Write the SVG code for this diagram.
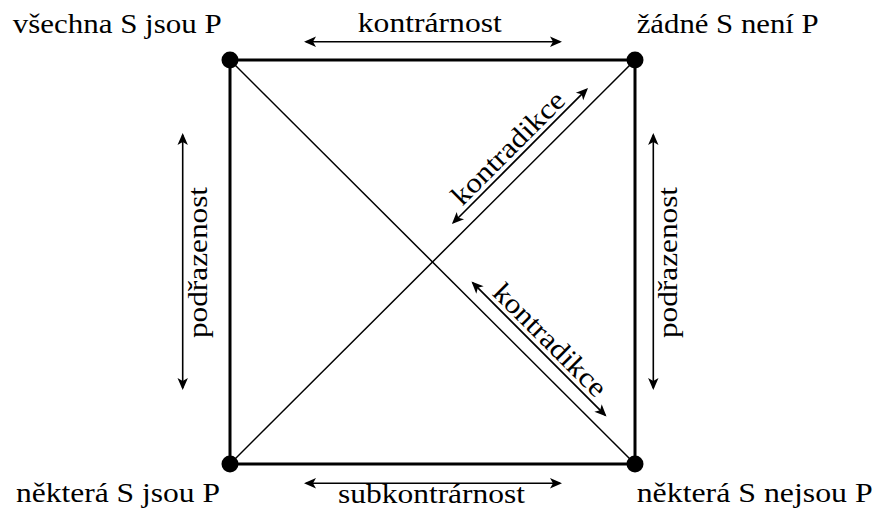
<svg xmlns="http://www.w3.org/2000/svg" width="878" height="510" viewBox="0 0 878 510">
<style>
  .lbl { font-family: "Liberation Serif", "DejaVu Serif", "Times New Roman", serif; font-size: 28px; fill: #000; }
  .edge { stroke: #000; stroke-width: 3; fill: none; }
  .diag { stroke: #000; stroke-width: 1.5; fill: none; }
  .arr { stroke: #000; stroke-width: 1.6; fill: none; marker-start: url(#ah); marker-end: url(#ah); }
  .dot { fill: #000; }
</style>
<defs>
  <marker id="ah" viewBox="-14 -7 15 14" refX="-2" refY="0" markerWidth="15" markerHeight="14" markerUnits="userSpaceOnUse" orient="auto-start-reverse">
    <path d="M0,0 L-12,-5.2 L-9,0 L-12,5.2 Z" fill="#000"/>
  </marker>
</defs>
<rect width="878" height="510" fill="#fff"/>
<g id="connectors">
  <line class="edge" x1="230" y1="60" x2="635" y2="60"/>
  <line class="edge" x1="230" y1="464" x2="635" y2="464"/>
  <line class="edge" x1="230" y1="60" x2="230" y2="464"/>
  <line class="edge" x1="635" y1="60" x2="635" y2="464"/>
  <line class="diag" x1="230" y1="60" x2="635" y2="464"/>
  <line class="diag" x1="230" y1="464" x2="635" y2="60"/>
  <line class="arr" x1="306" y1="41.7" x2="560" y2="41.7"/>
  <line class="arr" x1="306" y1="483.3" x2="560" y2="483.3"/>
  <line class="arr" x1="182.7" y1="135" x2="182.7" y2="388"/>
  <line class="arr" x1="653.3" y1="135" x2="653.3" y2="388"/>
  <line class="arr" x1="453.3" y1="222.7" x2="586.6" y2="89.4"/>
  <line class="arr" x1="472.9" y1="282.9" x2="605.1" y2="415.1"/>
  <text class="lbl" x="429.8" y="31.7" text-anchor="middle" textLength="144" lengthAdjust="spacingAndGlyphs">kontrárnost</text>
  <text class="lbl" x="431.5" y="503" text-anchor="middle" textLength="187" lengthAdjust="spacingAndGlyphs">subkontrárnost</text>
  <text class="lbl" transform="translate(207,262.5) rotate(-90)" text-anchor="middle" textLength="151" lengthAdjust="spacingAndGlyphs">podřazenost</text>
  <text class="lbl" transform="translate(677,262.5) rotate(-90)" text-anchor="middle" textLength="151" lengthAdjust="spacingAndGlyphs">podřazenost</text>
  <text class="lbl" transform="translate(514.5,154.5) rotate(-45)" text-anchor="middle" textLength="148" lengthAdjust="spacingAndGlyphs">kontradikce</text>
  <text class="lbl" transform="translate(543.5,346.5) rotate(45)" text-anchor="middle" textLength="148" lengthAdjust="spacingAndGlyphs">kontradikce</text>
</g>
<g id="n-all">
  <circle class="dot" cx="230" cy="60" r="8.5"/>
  <text class="lbl" x="12.7" y="33" textLength="209" lengthAdjust="spacingAndGlyphs">všechna S jsou P</text>
</g>
<g id="n-none">
  <circle class="dot" cx="635" cy="60" r="8.5"/>
  <text class="lbl" x="636.7" y="33" textLength="182" lengthAdjust="spacingAndGlyphs">žádné S není P</text>
</g>
<g id="n-some">
  <circle class="dot" cx="230" cy="464" r="8.5"/>
  <text class="lbl" x="16" y="502" textLength="204" lengthAdjust="spacingAndGlyphs">některá S jsou P</text>
</g>
<g id="n-somenot">
  <circle class="dot" cx="635" cy="464" r="8.5"/>
  <text class="lbl" x="636.7" y="502" textLength="236" lengthAdjust="spacingAndGlyphs">některá S nejsou P</text>
</g>
</svg>
